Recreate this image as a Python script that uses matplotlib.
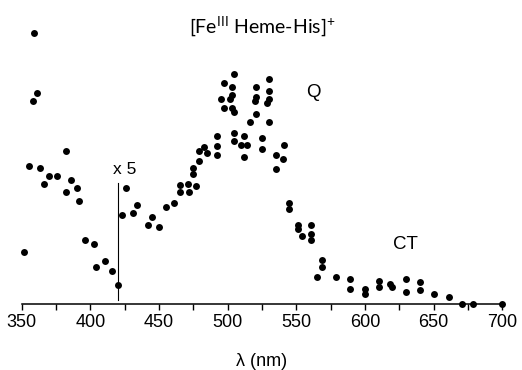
import matplotlib
matplotlib.use('Agg')
import matplotlib.pyplot as plt
from matplotlib.ticker import MultipleLocator

plt.rcParams['font.family'] = ['Liberation Sans', 'DejaVu Sans']
plt.rcParams['mathtext.default'] = 'regular'

# wavelength (nm) and relative absorbance
wavelength = [352, 355, 358, 359, 361, 363, 366, 370, 376, 382, 382, 386, 390, 392,
              396, 403, 404, 411, 416, 420, 423, 426, 431, 434, 442, 445, 450, 455,
              461, 465, 465, 471, 472, 475, 475, 477, 479, 479, 483, 485, 492, 492,
              492, 495, 497, 497, 502, 503, 503, 503, 505, 505, 505, 505, 510, 512,
              512, 514, 516, 520, 521, 521, 521, 525, 525, 529, 530, 530, 530, 530,
              535, 535, 540, 541, 545, 545, 551, 551, 554, 561, 561, 561, 565, 569,
              569, 579, 589, 589, 600, 600, 610, 610, 618, 620, 630, 630, 640, 640,
              650, 661, 671, 679, 700]
absorb = [0.194, 0.510, 0.753, 1.005, 0.783, 0.503, 0.444, 0.474, 0.474, 0.567, 0.416,
          0.459, 0.431, 0.380, 0.237, 0.222, 0.137, 0.159, 0.122, 0.071, 0.331, 0.431,
          0.337, 0.365, 0.294, 0.323, 0.286, 0.358, 0.373, 0.440, 0.415, 0.444, 0.415,
          0.480, 0.503, 0.437, 0.531, 0.567, 0.581, 0.559, 0.623, 0.586, 0.552, 0.760,
          0.817, 0.725, 0.760, 0.805, 0.775, 0.725, 0.853, 0.710, 0.632, 0.604, 0.588,
          0.623, 0.544, 0.588, 0.674, 0.753, 0.805, 0.768, 0.704, 0.616, 0.573, 0.746,
          0.832, 0.789, 0.759, 0.674, 0.552, 0.501, 0.537, 0.588, 0.373, 0.351, 0.293,
          0.279, 0.252, 0.293, 0.259, 0.237, 0.100, 0.164, 0.136, 0.100, 0.093, 0.057,
          0.057, 0.036, 0.085, 0.064, 0.073, 0.064, 0.093, 0.043, 0.080, 0.051, 0.036,
          0.027, 0.0, 0.0, 0.0]

fig = plt.figure(figsize=(5.22, 3.70), dpi=100)
ax = fig.add_axes([0.0416, 0.1784, 0.9204, 0.7676])

ax.scatter(wavelength, absorb, s=25, color='black', clip_on=False, zorder=3, linewidths=0)

# scale break marker
ax.plot([420, 420], [0.015, 0.448], color='black', lw=0.8)
ax.text(416.3, 0.48, 'x 5', fontsize=12.5, va='baseline')
ax.text(557, 0.767, 'Q', fontsize=13.5, va='baseline')
ax.text(620.4, 0.203, 'CT', fontsize=13.5, va='baseline')

ax.set_xlim(350, 700)
ax.set_ylim(0, 1.052)
ax.xaxis.set_major_locator(MultipleLocator(50))
ax.xaxis.set_minor_locator(MultipleLocator(25))
ax.tick_params(axis='x', which='both', direction='out', length=4.3, width=1.0,
               labelsize=13, pad=3)
ax.set_yticks([])
for s in ['top', 'left', 'right']:
    ax.spines[s].set_visible(False)
ax.spines['bottom'].set_linewidth(1.1)

fig.text(0.502, 1 - 32.7 / 370, r'[Fe$^{III}$ Heme-His]$^{+}$', ha='center',
         va='baseline', fontsize=14, family=['Lato', 'DejaVu Sans'])
fig.text(0.502, 1 - 366 / 370, 'λ (nm)', ha='center', va='baseline', fontsize=13)

fig.savefig('out.png', dpi=100)
